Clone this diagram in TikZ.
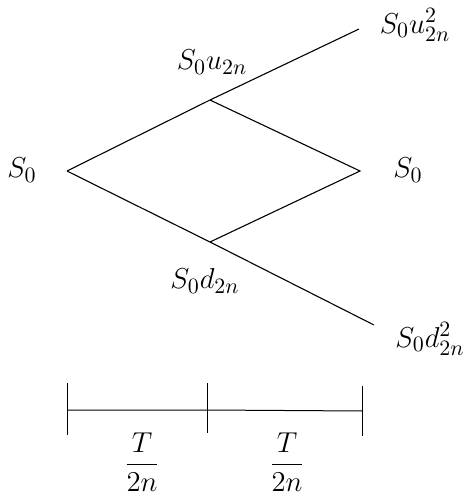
\documentclass[tikz,border=0pt]{standalone}
\usepackage{amsmath}
\usepackage{tikz}
\usetikzlibrary{positioning}
\begin{document}
\begin{tikzpicture}[x=0.5pt,y=-0.5pt,
    lbl/.style={font=\fontsize{15.5}{18}\selectfont, inner sep=0pt},
    branch/.style={line width=0.55pt},
    tick/.style={line width=0.5pt}
]
    \useasboundingbox (0,0) rectangle (465,495);

    % Tree points
    \coordinate (s0) at (67,171);
    \coordinate (u1) at (210,100);
    \coordinate (d1) at (210,242);
    \coordinate (uu) at (359,29);
    \coordinate (ud) at (360,171);
    \coordinate (dd) at (374,325);

    % Branches
    \draw[branch] (s0) -- (u1) -- (uu);
    \draw[branch] (s0) -- (d1) -- (dd);
    \draw[branch] (u1) -- (ud) -- (d1);

    % Prices
    \node[lbl] (ls0) at (22,170) {$S_0$};
    \node[lbl] (lu1) at (212,62) {$S_0u_{2n}$};
    \node[lbl] (luu) at (415,25) {$S_0u_{2n}^2$};
    \node[lbl] (lud) at (408,170) {$S_0$};
    \node[lbl] (ld1) at (205,281) {$S_0d_{2n}$};
    \node[lbl] (ldd) at (430,339) {$S_0d_{2n}^2$};

    % Time axis
    \coordinate (t0) at (68,410);
    \coordinate (t1) at (208,410);
    \coordinate (t2) at (363,411);
    \draw[tick] (t0) -- (t1) -- (t2);
    \draw[tick] (68,383) -- (68,435);
    \draw[tick] (208,383) -- (208,433);
    \draw[tick] (363,386) -- (363,436);

    \node[lbl] (dt1) at (142,462) {$\dfrac{T}{2n}$};
    \node[lbl] (dt2) at (287,462) {$\dfrac{T}{2n}$};
\end{tikzpicture}
\end{document}
